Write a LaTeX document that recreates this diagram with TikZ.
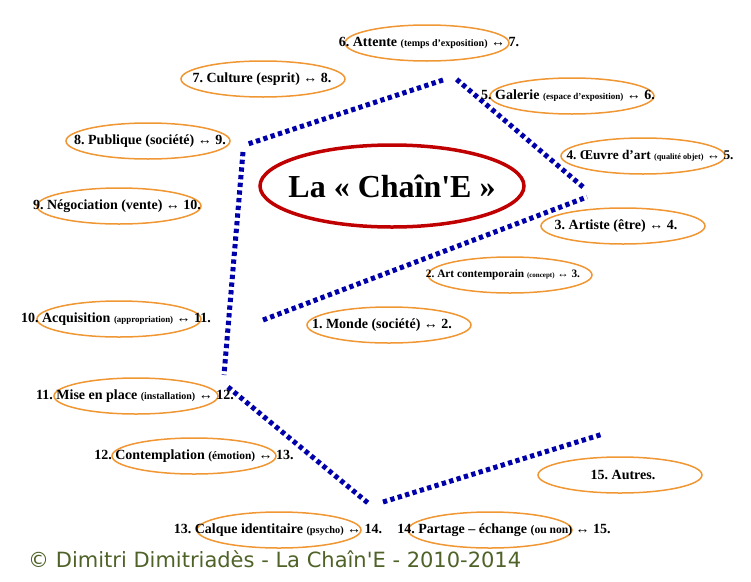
\documentclass[tikz,border=0pt]{standalone}
\usepackage{fontspec}
\setmainfont{Liberation Serif}
\newfontfamily\titrefont{Liberation Serif}
\newfontfamily\copyfont{DejaVu Sans}
\usetikzlibrary{shapes.geometric}
\definecolor{chainblue}{RGB}{0,0,170}
\definecolor{ringorange}{RGB}{240,150,50}
\definecolor{titlered}{RGB}{192,0,0}
\definecolor{copygreen}{RGB}{79,98,40}
\newcommand{\sous}[2]{{\fontsize{#1}{#1}\selectfont #2}}
\tikzset{
  maillon/.style={ellipse, draw=ringorange, line width=1.5pt, minimum width=164pt, minimum height=36pt, inner sep=0pt},
  etiquette/.style={font=\frenchspacing\bfseries\fontsize{14}{16}\selectfont, inner sep=0pt},
  chaine/.style={draw=chainblue, line width=5pt, dash pattern=on 4.3pt off 3.4pt}
}
\begin{document}
\begin{tikzpicture}[x=1pt,y=-1pt]
\useasboundingbox (0,0) rectangle (751,581);
    % les maillons
    \node (e1) [maillon] at (389,325) {};
    \node (e2) [maillon] at (510,275) {};
    \node (e3) [maillon] at (623,226) {};
    \node (e4) [maillon] at (643,156) {};
    \node (e5) [maillon] at (572,96) {};
    \node (e6) [maillon] at (427,43) {};
    \node (e7) [maillon] at (263,79) {};
    \node (e8) [maillon] at (148,141) {};
    \node (e9) [maillon] at (119,206) {};
    \node (e10) [maillon] at (119,319) {};
    \node (e11) [maillon] at (136,396) {};
    \node (e12) [maillon] at (194,456) {};
    \node (e13) [maillon] at (279,530) {};
    \node (e14) [maillon] at (490,530) {};
    \node (e15) [maillon] at (620,475) {};
    \node (titre) [ellipse, draw=titlered, line width=3.5pt, minimum width=264pt, minimum height=82pt] at (392,186) {};
    % la chaine
    \coordinate (a1) at (263,320); \coordinate (a2) at (587,197);
    \coordinate (b1) at (583,187); \coordinate (b2) at (455,78);
    \coordinate (c1) at (443,80);  \coordinate (c2) at (248,144);
    \coordinate (d1) at (243,152); \coordinate (d2) at (224,375);
    \coordinate (f1) at (228,387); \coordinate (f2) at (368,503);
    \coordinate (g1) at (383,502); \coordinate (g2) at (603,434);
    \draw[chaine] (a1) -- (a2);
    \draw[chaine] (b1) -- (b2);
    \draw[chaine] (c1) -- (c2);
    \draw[chaine] (d1) -- (d2);
    \draw[chaine] (f1) -- (f2);
    \draw[chaine] (g1) -- (g2);
    % les textes
    \node (t1) [etiquette] at (382,325) {1. Monde (société) ↔ 2.};
    \node (t2) [etiquette] at (503,275) {\sous{11.3}{2. Art contemporain \sous{7}{(concept)} ↔ 3.}};
    \node (t3) [etiquette] at (616,226) {3. Artiste (être) ↔ 4.};
    \node (t4) [etiquette] at (650,156) {\sous{13.3}{4. Œuvre d’art \sous{8.2}{(qualité objet)} ↔ 5.}};
    \node (t5) [etiquette] at (568,96) {5. Galerie \sous{9}{(espace d’exposition)} ↔ 6.};
    \node (t6) [etiquette] at (429,43) {6. Attente \sous{10}{(temps d’exposition)} ↔ 7.};
    \node (t7) [etiquette] at (262,79) {7. Culture (esprit) ↔ 8.};
    \node (t8) [etiquette] at (150,141) {8. Publique (société) ↔ 9.};
    \node (t9) [etiquette] at (117,206) {9. Négociation (vente) ↔ 10.};
    \node (t10) [etiquette] at (116,319) {10. Acquisition \sous{8.9}{(appropriation)} ↔ 11.};
    \node (t11) [etiquette] at (135,396) {11. Mise en place \sous{10}{(installation)} ↔ 12.};
    \node (t12) [etiquette] at (194,456) {12. Contemplation \sous{11.4}{(émotion)} ↔ 13.};
    \node (t13) [etiquette] at (278,530) {13. Calque identitaire \sous{10.3}{(psycho)} ↔ 14.};
    \node (t14) [etiquette] at (504,530) {14. Partage – échange \sous{11.6}{(ou non)} ↔ 15.};
    \node (t15) [etiquette] at (623,475) {15. Autres.};
    \node (nom) [font=\titrefont\bfseries\fontsize{32}{36}\selectfont] at (titre) {La « Chaîn'E »};
    \node (copy) [anchor=base west, inner sep=0pt, text=copygreen, font=\copyfont\fontsize{21}{24}\selectfont] at (28,567) {© Dimitri Dimitriadès - La Chaîn'E - 2010-2014};
\end{tikzpicture}
\end{document}
